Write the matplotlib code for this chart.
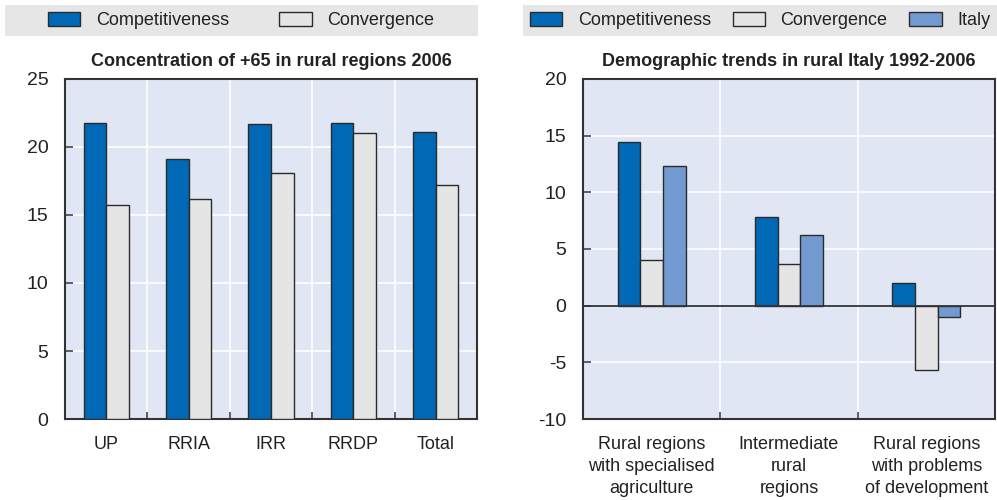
import matplotlib
matplotlib.use("Agg")
import matplotlib.pyplot as plt
from matplotlib.patches import Rectangle, Patch
import numpy as np

plt.rcParams['font.family'] = ['Liberation Sans Narrow', 'Liberation Sans', 'DejaVu Sans']
plt.rcParams['axes.unicode_minus'] = False

# ---- data ----
left_categories = ["UP", "RRIA", "IRR", "RRDP", "Total"]
left_competitiveness = [21.8, 19.1, 21.7, 21.8, 21.1]
left_convergence = [15.7, 16.2, 18.1, 21.0, 17.2]
left_title = "Concentration of +65 in rural regions 2006"
left_yticks = [0, 5, 10, 15, 20, 25]

right_categories = ["Rural regions\nwith specialised\nagriculture",
                    "Intermediate\nrural\nregions",
                    "Rural regions\nwith problems\nof development"]
right_competitiveness = [14.4, 7.8, 2.0]
right_convergence = [4.0, 3.7, -5.7]
right_italy = [12.3, 6.2, -1.0]
right_title = "Demographic trends in rural Italy 1992-2006"
right_yticks = [-10, -5, 0, 5, 10, 15, 20]

# ---- style ----
C_COMP = "#0068b4"
C_CONV = "#e5e5e5"
C_ITA = "#7399d1"
C_BG = "#e0e6f4"
C_EDGE = "#2b2b2b"
C_TXT = "#222222"
FS = 13

W, H = 997, 500
fig = plt.figure(figsize=(W / 100, H / 100), dpi=100)


def px_axes(x0, y0, x1, y1):
    return fig.add_axes([x0 / W, 1 - y1 / H, (x1 - x0) / W, (y1 - y0) / H])


def style_axes(ax, ncat, yticks):
    ax.set_facecolor(C_BG)
    ax.set_xlim(-0.5, ncat - 0.5)
    ax.set_ylim(yticks[0], yticks[-1])
    ax.set_yticks(yticks)
    ax.set_xticks(np.arange(ncat))
    ax.set_xticks(np.arange(ncat - 1) + 0.5, minor=True)
    ax.tick_params(axis='x', which='major', length=0, pad=12, labelsize=FS, labelcolor=C_TXT)
    ax.tick_params(axis='x', which='minor', direction='in', length=5, width=1.2, color="#444444")
    ax.tick_params(axis='y', which='major', direction='in', length=6, width=1.2,
                   color="#444444", pad=12, labelsize=14, labelcolor=C_TXT)
    ax.grid(True, axis='y', which='major', color='white', linewidth=1.2)
    ax.grid(True, axis='x', which='minor', color='white', linewidth=1.2)
    ax.grid(False, axis='x', which='major')
    ax.set_axisbelow(True)
    for s in ax.spines.values():
        s.set_color("#333333")
        s.set_linewidth(1.5)


def legend_band(x0, x1, handles, labels, colspacing, center_x):
    fig.patches.append(Rectangle((x0 / W, 1 - 36 / H), (x1 - x0) / W, 31 / H,
                                 transform=fig.transFigure, facecolor="#e6e6e6",
                                 edgecolor='none', zorder=0))
    leg = fig.legend(handles, labels, ncol=len(handles), frameon=False,
                     loc='center', bbox_to_anchor=(center_x / W, 1 - 20.5 / H),
                     fontsize=FS, handlelength=1.8, handleheight=0.85,
                     handletextpad=0.85, columnspacing=colspacing,
                     borderaxespad=0, borderpad=0)
    for t in leg.get_texts():
        t.set_color(C_TXT)
    return leg


# ---- left panel ----
ax1 = px_axes(65, 79, 477, 419)
style_axes(ax1, len(left_categories), left_yticks)
x = np.arange(len(left_categories))
bw = 0.275
ax1.bar(x - bw / 2, left_competitiveness, bw, color=C_COMP, edgecolor=C_EDGE, linewidth=1.0, zorder=3)
ax1.bar(x + bw / 2, left_convergence, bw, color=C_CONV, edgecolor=C_EDGE, linewidth=1.0, zorder=3)
ax1.set_xticklabels(left_categories)
ax1.set_title(left_title, fontsize=FS, fontweight='bold', color=C_TXT, pad=9)

# ---- right panel ----
ax2 = px_axes(583, 79, 995, 419)
style_axes(ax2, len(right_categories), right_yticks)
x2 = np.arange(len(right_categories))
bw2 = 0.165
ax2.bar(x2 - bw2, right_competitiveness, bw2, color=C_COMP, edgecolor=C_EDGE, linewidth=1.0, zorder=3)
ax2.bar(x2, right_convergence, bw2, color=C_CONV, edgecolor=C_EDGE, linewidth=1.0, zorder=3)
ax2.bar(x2 + bw2, right_italy, bw2, color=C_ITA, edgecolor=C_EDGE, linewidth=1.0, zorder=3)
ax2.axhline(0, color="#333333", linewidth=1.3, zorder=4)
ax2.set_xticklabels(right_categories, linespacing=1.4)
ax2.set_title(right_title, fontsize=FS, fontweight='bold', color=C_TXT, pad=9)

# ---- legends ----
h_comp = Patch(facecolor=C_COMP, edgecolor=C_EDGE, linewidth=1.0)
h_conv = Patch(facecolor=C_CONV, edgecolor=C_EDGE, linewidth=1.0)
h_ita = Patch(facecolor=C_ITA, edgecolor=C_EDGE, linewidth=1.0)
legend_band(5, 478, [h_comp, h_conv], ["Competitiveness", "Convergence"], 2.8, 241)
legend_band(523, 997, [h_comp, h_conv, h_ita], ["Competitiveness", "Convergence", "Italy"], 1.2, 760)

fig.savefig("out.png", dpi=100)
